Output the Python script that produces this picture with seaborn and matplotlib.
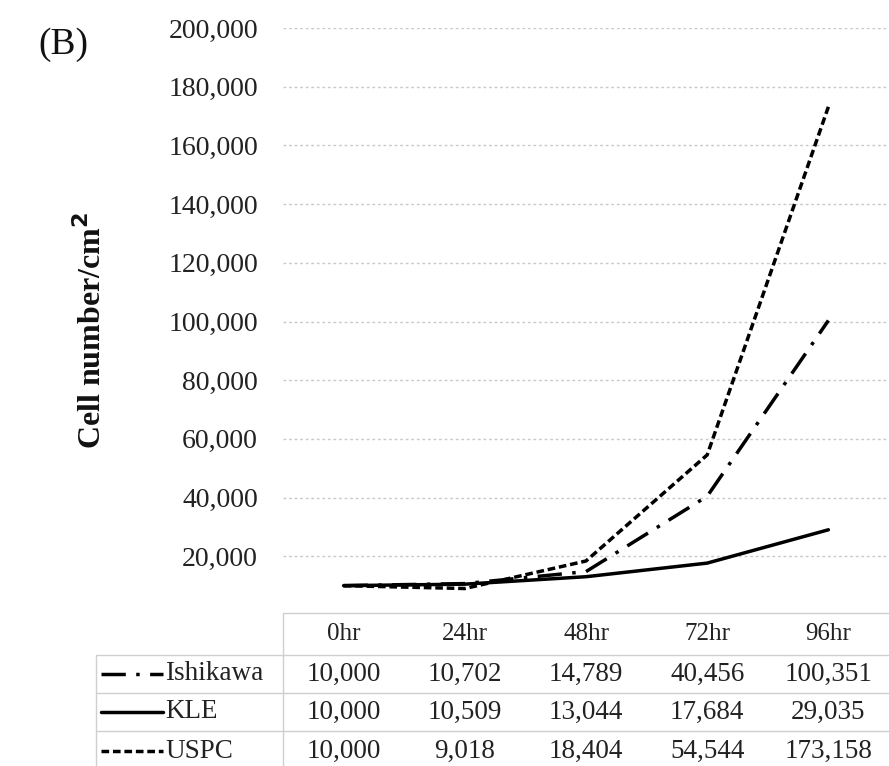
import matplotlib
matplotlib.use("Agg")
import matplotlib.pyplot as plt
from matplotlib.lines import Line2D
from matplotlib.ticker import FuncFormatter
import pandas as pd
import seaborn as sns

# Proliferation of endometrial cancer cell lines (cells per cm^2)
time_points = ["0hr", "24hr", "48hr", "72hr", "96hr"]
ishikawa = [10000, 10702, 14789, 40456, 100351]
kle = [10000, 10509, 13044, 17684, 29035]
uspc = [10000, 9018, 18404, 54544, 173158]
series_names = ["Ishikawa", "KLE", "USPC"]
y_ticks = [20000, 40000, 60000, 80000, 100000, 120000, 140000, 160000, 180000, 200000]

dash_styles = {"Ishikawa": (7, 3, 1, 3), "KLE": "", "USPC": (2.2, 1.1)}

sns.set_theme(style="white")
plt.rcParams["font.family"] = ["Liberation Serif", "DejaVu Serif"]

W, H = 889, 766
fig = plt.figure(figsize=(W / 100, H / 100), dpi=100)

# plot area in pixel coordinates
x0, x1 = 283, 889
y_top, y_zero = 28, 615
ax = fig.add_axes([x0 / W, 1 - y_zero / H, (x1 - x0) / W, (y_zero - y_top) / H])

records = []
for name, vals in zip(series_names, [ishikawa, kle, uspc]):
    for i, (t, v) in enumerate(zip(time_points, vals)):
        records.append({"pos": i, "time": t, "cells": v, "line": name})
df = pd.DataFrame(records)

sns.lineplot(data=df, x="pos", y="cells", style="line", style_order=series_names,
             dashes=dash_styles, color="black", linewidth=2.5, legend=False, ax=ax)

ax.set_xlim(-0.5, len(time_points) - 0.5)
ax.set_ylim(0, 200000)
ax.set_yticks(y_ticks)
ax.yaxis.set_major_formatter(FuncFormatter(lambda v, p: f"{int(v):,}"))
ax.tick_params(axis="y", labelsize=20, length=0, pad=18, colors="#222222")
ax.set_xticks([])
ax.set_xlabel("")
ax.set_ylabel("")
for s in ax.spines.values():
    s.set_visible(False)
ax.grid(axis="y", color="#c9c9c9", linestyle=(0, (2, 2)), linewidth=1.0)
ax.grid(axis="x", visible=False)

# y-axis title and panel tag
fig.text(92 / W, 1 - 330 / H, "Cell number/cm$^\\mathbf{2}$", rotation=90, ha="center",
         va="center", fontsize=23, fontweight="bold", color="#111111")
fig.text(38 / W, 1 - 45 / H, "(B)", ha="left", va="center", fontsize=27, color="#111111")

# data table under the chart
def fx(px):
    return px / W

def fy(py):
    return 1 - py / H

grid_col = "#cfcfcf"
row_edges = [613, 655, 693, 731, 771]
label_left = 96
col_w = (x1 - x0) / len(time_points)

def hline(y, xa, xb):
    fig.add_artist(Line2D([fx(xa), fx(xb)], [fy(y), fy(y)], color=grid_col, lw=1.0))

def vline(x, ya, yb):
    fig.add_artist(Line2D([fx(x), fx(x)], [fy(ya), fy(yb)], color=grid_col, lw=1.0))

hline(row_edges[0], x0, x1)
for y in row_edges[1:]:
    hline(y, label_left, x1)
vline(x0, row_edges[0], row_edges[-1])
vline(label_left, row_edges[1], row_edges[-1])

tfs = 19.5
for j, t in enumerate(time_points):
    cx = x0 + col_w * (j + 0.5)
    fig.text(fx(cx), fy((row_edges[0] + row_edges[1]) / 2), t, ha="center", va="center",
             fontsize=18, color="#222222")

for r, (name, vals) in enumerate(zip(series_names, [ishikawa, kle, uspc])):
    cy = (row_edges[r + 1] + row_edges[r + 2]) / 2
    sample = Line2D([fx(101), fx(163)], [fy(cy), fy(cy)], color="black", lw=2.5)
    if dash_styles[name]:
        sample.set_dashes(dash_styles[name])
    fig.add_artist(sample)
    fig.text(fx(165), fy(cy), name, ha="left", va="center", fontsize=tfs, color="#222222")
    for j, v in enumerate(vals):
        cx = x0 + col_w * (j + 0.5)
        fig.text(fx(cx), fy(cy), f"{v:,}", ha="center", va="center", fontsize=tfs,
                 color="#222222")

fig.savefig("out.png", dpi=100, facecolor="white")
